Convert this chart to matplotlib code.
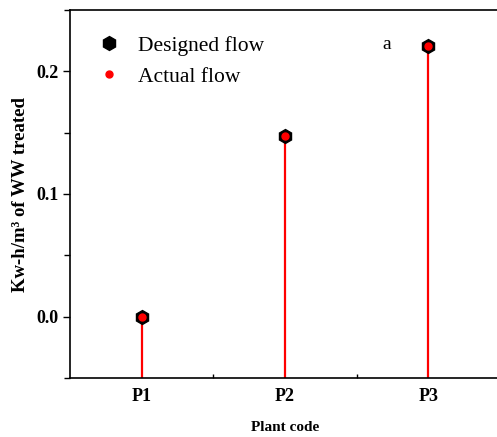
import matplotlib.pyplot as plt
from matplotlib.ticker import MultipleLocator

plants = ["P1", "P2", "P3"]
designed_flow = [0.0, 0.147, 0.221]
actual_flow = [0.0, 0.147, 0.221]

plt.rcParams['font.family'] = ['Liberation Serif', 'DejaVu Serif']

fig = plt.figure(figsize=(4.97, 4.37), dpi=100)
ax = fig.add_axes([70 / 497, 59 / 437, 430 / 497, 368 / 437])

x = list(range(1, len(plants) + 1))
ymin = -0.05

# stems
ax.vlines(x, ymin, actual_flow, color='red', linewidth=1.6, zorder=2)
ax.plot(x, designed_flow, linestyle='none', marker='h', markersize=10,
        color='black', label='Designed flow', zorder=3)
ax.plot(x, actual_flow, linestyle='none', marker='o', markersize=5,
        color='red', label='Actual flow', zorder=4)

ax.set_xlim(0.5, 3.5)
ax.set_ylim(ymin, 0.25)
ax.set_xticks(x)
ax.set_xticklabels(plants, fontweight='bold', fontsize=13)
ax.set_xticks([1.5, 2.5], minor=True)
ax.yaxis.set_major_locator(MultipleLocator(0.1))
ax.yaxis.set_minor_locator(MultipleLocator(0.05))
for lab in ax.get_yticklabels():
    lab.set_fontweight('bold')
    lab.set_fontsize(13)

ax.tick_params(axis='y', which='major', direction='out', length=5, width=1)
ax.tick_params(axis='y', which='minor', direction='out', length=4, width=1)
ax.tick_params(axis='x', which='major', direction='in', length=0, pad=7)
ax.tick_params(axis='x', which='minor', direction='in', length=3, width=1)

for s in ax.spines.values():
    s.set_linewidth(1.2)

ax.set_ylabel("Kw-h/m³ of WW treated", fontweight='bold', fontsize=13.5, labelpad=5)
ax.set_xlabel("Plant code", fontweight='bold', fontsize=11, labelpad=12)

ax.legend(loc='upper left', frameon=False, fontsize=15.5, handletextpad=0.75,
          borderaxespad=0.8, labelspacing=0.5, handlelength=1.2)
ax.text(0.727, 0.895, "a", transform=ax.transAxes, fontsize=14)

fig.savefig("out.png", dpi=100)
